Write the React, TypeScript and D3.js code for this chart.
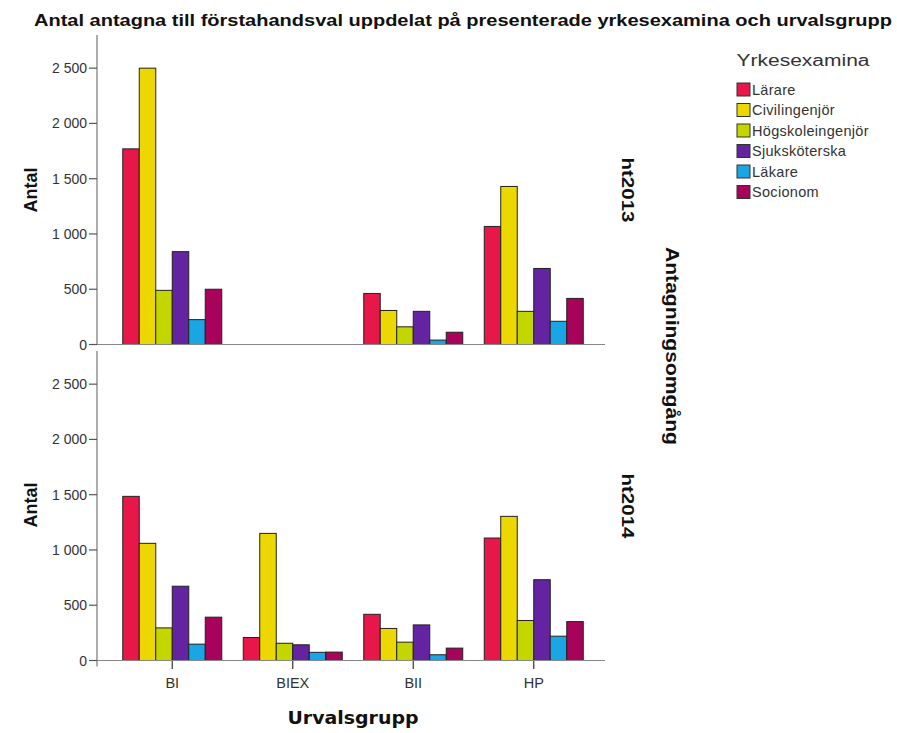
import React from "react";
import * as d3 from "d3";

const categories = ["BI", "BIEX", "BII", "HP"];
const series = ["Lärare", "Civilingenjör", "Högskoleingenjör", "Sjuksköterska", "Läkare", "Socionom"];
const colors = ["#e8174a", "#ecd800", "#c4d600", "#6423a0", "#1aa6e4", "#a8035a"];
const panels = ["ht2013", "ht2014"];
// values[panel][category][series]
const ht2013 = [
  [1770, 2500, 490, 840, 225, 500],
  [0, 0, 0, 0, 0, 0],
  [462, 308, 160, 300, 40, 111],
  [1068, 1430, 300, 688, 210, 417],
];
const ht2014 = [
  [1485, 1060, 295, 672, 148, 392],
  [208, 1150, 156, 142, 74, 76],
  [418, 290, 166, 322, 52, 112],
  [1108, 1304, 362, 731, 220, 352],
];
const yTicks = [0, 500, 1000, 1500, 2000, 2500];

const fmt = (v: number) => d3.format(",")(v).replace(/,/g, " ");

export default function App() {
  const W = 897, H = 733;
  const axisX = 97, axisRight = 605;
  const panelTops = [35, 351];
  const panelH = 309.5;
  const data = [ht2013, ht2014];

  const x0 = d3.scaleBand<string>().domain(categories).range([112, 594]).padding(0);
  const groupW = 99;
  const x1 = d3.scaleBand<string>().domain(series).range([0, groupW]).padding(0);
  const off = (x0.bandwidth() - groupW) / 2;

  return (
    <svg width={W} height={H} style={{ position: "absolute", left: 0, top: 0, fontFamily: "Arial, 'Liberation Sans', sans-serif" }}>
      <rect width={W} height={H} fill="#fff" />
      <text x={463} y={26} textAnchor="middle" fontSize={16} fontWeight="bold"
        fontFamily="'Liberation Sans Narrow', 'Arial Narrow', Arial, sans-serif"
        textLength={858} lengthAdjust="spacingAndGlyphs" fill="#111">
        Antal antagna till förstahandsval uppdelat på presenterade yrkesexamina och urvalsgrupp
      </text>
      {panels.map((p, pi) => {
        const top = panelTops[pi];
        const y = d3.scaleLinear().domain([0, 2800]).range([top + panelH, top]);
        const zero = y(0);
        return (
          <g key={p}>
            {data[pi].map((vals, ci) => (
              <g key={ci} transform={`translate(${(x0(categories[ci]) as number) + off},0)`}>
                {vals.map((v, si) =>
                  v > 0 ? (
                    <rect key={si} x={x1(series[si])} y={y(v)} width={x1.bandwidth()} height={zero - y(v)}
                      fill={colors[si]} stroke="#222" strokeWidth={1} />
                  ) : null
                )}
              </g>
            ))}
            <line x1={axisX} x2={axisRight} y1={zero} y2={zero} stroke="#888" strokeWidth={1.2} />
            <line x1={axisX} x2={axisX} y1={top} y2={zero + (pi === 1 ? 6 : 0)} stroke="#777" strokeWidth={1.2} />
            {yTicks.map((t) => (
              <g key={t}>
                <line x1={axisX - 8} x2={axisX} y1={y(t)} y2={y(t)} stroke="#555" strokeWidth={1.2} />
                <text x={axisX - 10} y={y(t) + 5} textAnchor="end" fontSize={14} fill="#333">{fmt(t)}</text>
              </g>
            ))}
            <text transform={`translate(37,${pi === 0 ? 190 : 505}) rotate(-90)`} textAnchor="middle"
              fontSize={18} fontWeight="bold" fill="#111">Antal</text>
            <text transform={`translate(622,${pi === 0 ? 190 : 506}) rotate(90)`} textAnchor="middle"
              fontSize={17} fontWeight="bold" fill="#111" textLength={65} lengthAdjust="spacingAndGlyphs">{p}</text>
          </g>
        );
      })}
      {categories.map((c) => {
        const cx = (x0(c) as number) + x0.bandwidth() / 2;
        return (
          <g key={c}>
            <line x1={cx} x2={cx} y1={661} y2={669} stroke="#333" strokeWidth={1.2} />
            <text x={cx} y={688} textAnchor="middle" fontSize={14.5} fill="#333">{c}</text>
          </g>
        );
      })}
      <text x={353} y={724} textAnchor="middle" fontSize={18} fontWeight="bold" fill="#111"
        fontFamily="'DejaVu Sans', sans-serif" textLength={131} lengthAdjust="spacingAndGlyphs">Urvalsgrupp</text>
      <text transform={`translate(666,346) rotate(90)`} textAnchor="middle" fontSize={18} fontWeight="bold" fill="#111"
        textLength={198} lengthAdjust="spacingAndGlyphs">Antagningsomgång</text>
      <text x={803} y={66} textAnchor="middle" fontSize={16} fill="#333" textLength={133} lengthAdjust="spacingAndGlyphs">Yrkesexamina</text>
      {series.map((s, i) => (
        <g key={s} transform={`translate(737,${83 + i * 20.5})`}>
          <rect x={0} y={0} width={13} height={13} fill={colors[i]} stroke="#333" strokeWidth={1} />
          <text x={15} y={11.5} fontSize={14.5} fill="#333" letterSpacing={0.3}>{s}</text>
        </g>
      ))}
    </svg>
  );
}
